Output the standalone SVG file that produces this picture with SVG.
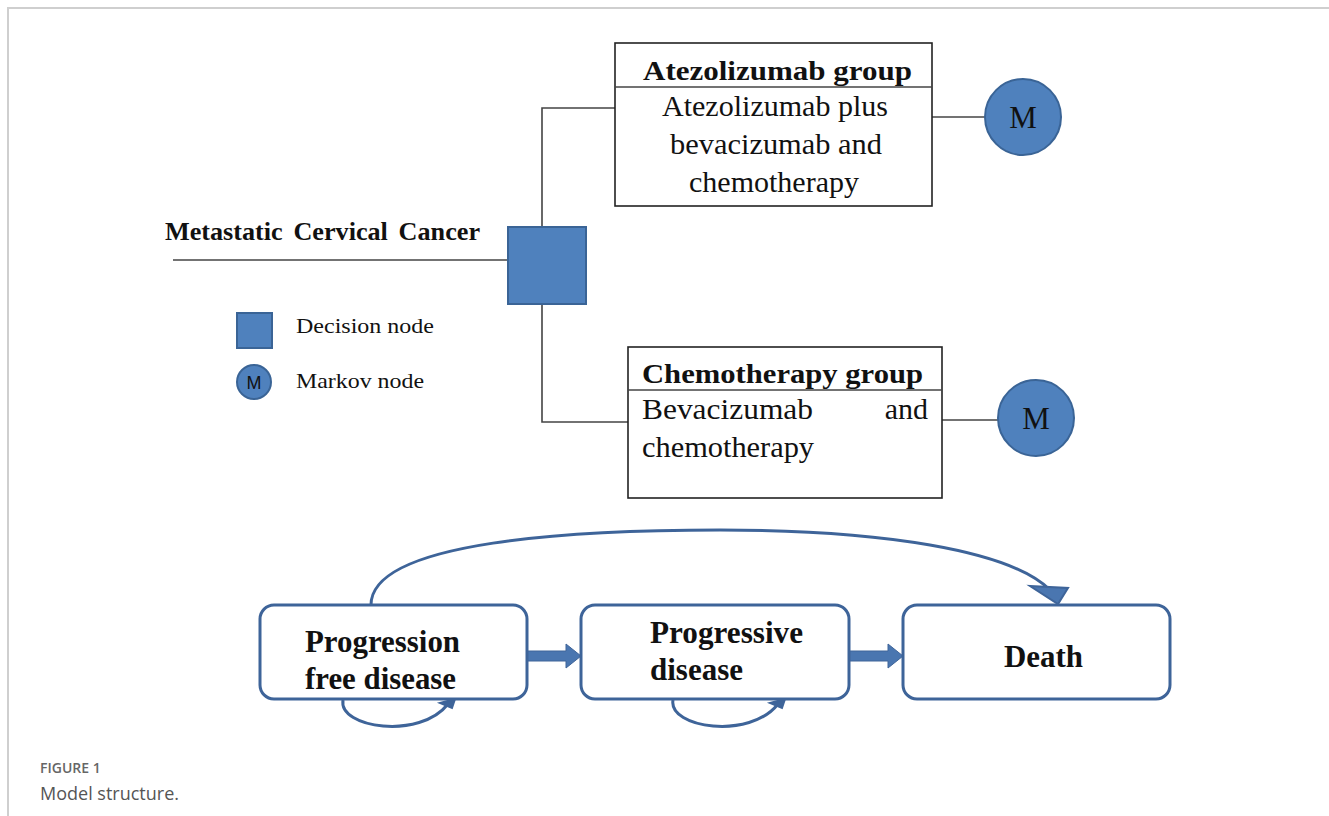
<svg xmlns="http://www.w3.org/2000/svg" width="1329" height="816" viewBox="0 0 1329 816">
<defs>
<style>
.frame{stroke:#cfcfcf;stroke-width:2;fill:none}
.ln{stroke:#444;stroke-width:1.6;fill:none}
.box{fill:#fff;stroke:#222;stroke-width:1.6}
.blue{fill:#4f81bd;stroke:#3a6496;stroke-width:2}
.ttl{font-family:"Liberation Serif",serif;font-weight:bold;font-size:28px;fill:#111}
.body{font-family:"Liberation Serif",serif;font-size:30px;fill:#111}
.leg{font-family:"Liberation Serif",serif;font-size:22px;fill:#111}
.mk{font-family:"Liberation Serif",serif;font-size:31px;fill:#111}
.st{fill:#fff;stroke:#3e6499;stroke-width:3}
.stt{font-family:"Liberation Serif",serif;font-weight:bold;font-size:31px;fill:#111}
.arc{fill:none;stroke:#3e6499;stroke-width:3}
.cap1{font-family:"Open Sans",sans-serif;font-size:14px;font-weight:600;fill:#666}
.cap2{font-family:"Open Sans",sans-serif;font-size:18px;fill:#555}
</style>
</defs>
<rect width="1329" height="816" fill="#fff"/>
<path class="frame" d="M8,816 V8 H1329"/>

<g id="connectors">
<line class="ln" x1="173" y1="260" x2="509" y2="260"/>
<polyline class="ln" points="615,108 542,108 542,227"/>
<polyline class="ln" points="542,304 542,422 628,422"/>
<line class="ln" x1="932" y1="117" x2="985" y2="117"/>
<line class="ln" x1="942" y1="420" x2="998" y2="420"/>
<path d="M527,651 H566 V644 L581,656 L566,668 V661 H527 Z" fill="#4a76b0" stroke="#3e6499" stroke-width="1"/>
<path d="M849,651 H888 V644 L903,656 L888,668 V661 H849 Z" fill="#4a76b0" stroke="#3e6499" stroke-width="1"/>
<path class="arc" d="M371,605 C371,540 580,530 720,530 C880,530 1010,550 1050,590"/>
<polygon points="1030,586 1068,588 1058,604" fill="#4a76b0" stroke="#3e6499" stroke-width="2"/>
<path class="arc" d="M343,700 C338,728 420,740 448,704"/>
<polygon points="440,703 455,699 452,708" fill="#3e6499" stroke="#3e6499" stroke-width="2"/>
<path class="arc" d="M673,700 C668,728 750,740 778,704"/>
<polygon points="770,703 785,699 782,708" fill="#3e6499" stroke="#3e6499" stroke-width="2"/>
</g>

<g id="root-label">
<text class="ttl" x="165" y="240" style="font-size:25px;word-spacing:4px" textLength="315" lengthAdjust="spacingAndGlyphs">Metastatic Cervical Cancer</text>
</g>

<g id="decision-node">
<rect class="blue" x="508" y="227" width="78" height="77"/>
</g>

<g id="atezolizumab-group">
<rect class="box" x="615" y="43" width="317" height="163"/>
<line class="ln" x1="615" y1="87" x2="932" y2="87" stroke="#222"/>
<text class="ttl" x="643" y="80" textLength="269" lengthAdjust="spacingAndGlyphs">Atezolizumab group</text>
<text class="body" x="662" y="116" textLength="226" lengthAdjust="spacingAndGlyphs">Atezolizumab plus</text>
<text class="body" x="670" y="154" textLength="212" lengthAdjust="spacingAndGlyphs">bevacizumab and</text>
<text class="body" x="689" y="192" textLength="170" lengthAdjust="spacingAndGlyphs">chemotherapy</text>
</g>

<g id="markov-top">
<circle class="blue" cx="1023" cy="117" r="38"/>
<text class="mk" x="1023" y="128" text-anchor="middle">M</text>
</g>

<g id="chemotherapy-group">
<rect class="box" x="628" y="347" width="314" height="151"/>
<line class="ln" x1="628" y1="390" x2="942" y2="390" stroke="#222"/>
<text class="ttl" x="642" y="383" textLength="281" lengthAdjust="spacingAndGlyphs">Chemotherapy group</text>
<text class="body" x="642" y="419" textLength="171" lengthAdjust="spacingAndGlyphs">Bevacizumab</text>
<text class="body" x="928" y="419" text-anchor="end">and</text>
<text class="body" x="642" y="457" textLength="172" lengthAdjust="spacingAndGlyphs">chemotherapy</text>
</g>

<g id="markov-bottom">
<circle class="blue" cx="1036" cy="418" r="38"/>
<text class="mk" x="1036" y="429" text-anchor="middle">M</text>
</g>

<g id="legend">
<rect class="blue" x="237" y="313" width="35" height="35"/>
<text class="leg" x="296" y="333" textLength="138" lengthAdjust="spacingAndGlyphs">Decision node</text>
<circle class="blue" cx="254" cy="382" r="17"/>
<text x="254" y="389" text-anchor="middle" style="font-family:'Liberation Sans',sans-serif;font-size:18px;fill:#111">M</text>
<text class="leg" x="296" y="388" textLength="128" lengthAdjust="spacingAndGlyphs">Markov node</text>
</g>

<g id="state-pfd">
<rect class="st" x="260" y="605" width="267" height="94" rx="14"/>
<text class="stt" x="305" y="652" textLength="155" lengthAdjust="spacingAndGlyphs">Progression</text>
<text class="stt" x="305" y="689" textLength="151" lengthAdjust="spacingAndGlyphs">free disease</text>
</g>

<g id="state-pd">
<rect class="st" x="581" y="605" width="268" height="94" rx="14"/>
<text class="stt" x="650" y="643" textLength="153" lengthAdjust="spacingAndGlyphs">Progressive</text>
<text class="stt" x="650" y="680" textLength="93" lengthAdjust="spacingAndGlyphs">disease</text>
</g>

<g id="state-death">
<rect class="st" x="903" y="605" width="267" height="94" rx="14"/>
<text class="stt" x="1004" y="667" textLength="79" lengthAdjust="spacingAndGlyphs">Death</text>
</g>

<g id="caption">
<text class="cap1" x="40" y="773">FIGURE 1</text>
<text class="cap2" x="40" y="800">Model structure.</text>
</g>
</svg>
